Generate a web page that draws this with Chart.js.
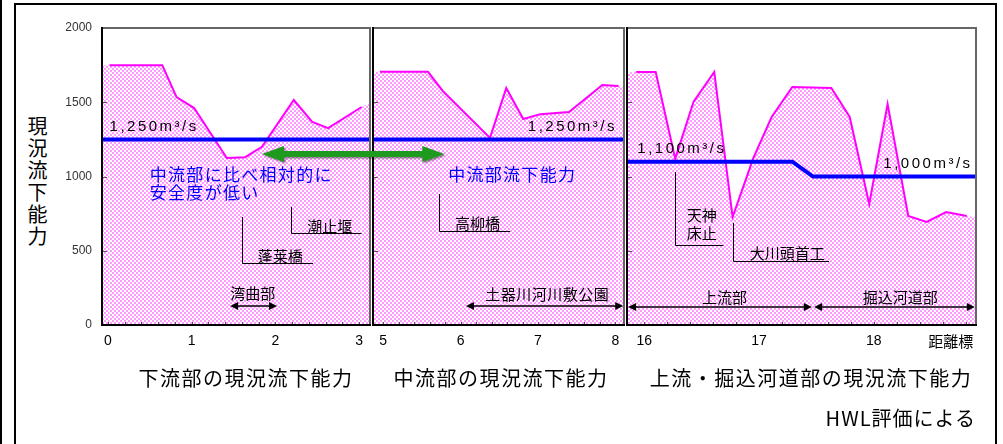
<!DOCTYPE html>
<html lang="ja">
<head>
<meta charset="utf-8">
<title>現況流下能力</title>
<script src="https://cdn.jsdelivr.net/npm/chart.js@4.4.1/dist/chart.umd.min.js"></script>
<style>
  html, body { margin: 0; padding: 0; background: #fff; }
  body { width: 1003px; height: 444px; position: relative; overflow: hidden;
         font-family: "Noto Sans CJK JP", sans-serif; color: #000; }
  .edge { position: absolute; left: 0; top: 0; width: 2px; height: 444px; background: #000; }
  .frame { position: absolute; left: 14px; top: 3px; width: 983px; height: 470px;
           border: 2px solid #000; border-bottom: none; box-sizing: border-box; }
  canvas { position: absolute; top: 18px; }
  #c1 { left: 16px; }
  #c2 { left: 372px; }
  #c3 { left: 626px; }
  #overlay { left: 0; top: 0; pointer-events: none; }
  .ytitle { position: absolute; left: 27px; top: 116px; font-size: 20px; line-height: 20px;
            writing-mode: vertical-rl; text-orientation: upright; letter-spacing: 2px; }
  .cap { position: absolute; top: 366px; width: 360px; font-size: 20px; line-height: 24px;
         letter-spacing: 1.5px; text-align: center; white-space: nowrap; }
  .note { position: absolute; left: 724px; top: 406px; width: 252px; font-size: 20px; line-height: 24px;
          letter-spacing: 1px; text-align: right; white-space: nowrap; }
</style>
</head>
<body>
<div class="edge"></div>
<div class="frame"></div>
<div class="ytitle">現況流下能力</div>
<canvas id="c1" width="356" height="336"></canvas>
<canvas id="c2" width="254" height="336"></canvas>
<canvas id="c3" width="370" height="336"></canvas>
<canvas id="overlay" width="1003" height="444"></canvas>
<div class="cap" style="left:66px">下流部の現況流下能力</div>
<div class="cap" style="left:321px">中流部の現況流下能力</div>
<div class="cap" style="left:631px">上流・掘込河道部の現況流下能力</div>
<div class="note">HWL評価による</div>
<script>
const MAGENTA = '#ff00ff';
const BLUE = '#0000ff';
const JP = '"Noto Sans CJK JP"';
const NUM = '"Liberation Sans", Arial';

// 縦軸 (m3/s)
const yTicks = [0, 500, 1000, 1500, 2000];

// 下流部 0〜3k
const lowerKm = [-0.07, 0.02, 0.65, 0.82, 1.03, 1.42, 1.64, 1.84, 2.22, 2.44, 2.63, 3.03, 3.13];
const lowerFlow = [1750, 1750, 1750, 1535, 1461, 1125, 1130, 1200, 1515, 1367, 1326, 1468, 1495];
const lowerPlanKm = [-0.07, 3.13];
const lowerPlan = [1250, 1250];
const lowerTicks = [0, 1, 2, 3];

// 中流部 5〜8k
const middleKm = [4.87, 4.96, 5.58, 5.77, 6.38, 6.59, 6.81, 7.03, 7.40, 7.83, 8.04, 8.11];
const middleFlow = [1705, 1705, 1705, 1576, 1260, 1596, 1387, 1420, 1434, 1616, 1609, 1600];
const middlePlanKm = [4.87, 8.11];
const middlePlan = [1250, 1250];
const middleTicks = [5, 6, 7, 8];

// 上流・掘込河道部 16〜18.8k
const upperKm = [15.85, 15.93, 16.10, 16.27, 16.43, 16.61, 16.77, 16.95, 17.11, 17.29,
                 17.63, 17.79, 17.96, 18.12, 18.30, 18.46, 18.63, 18.81, 18.89];
const upperFlow = [1700, 1704, 1704, 1120, 1503, 1704, 727, 1124, 1401, 1603,
                   1596, 1401, 815, 1488, 734, 694, 761, 734, 727];
const upperPlanKm = [15.85, 17.29, 17.47, 18.89];
const upperPlan = [1100, 1100, 1000, 1000];
const upperTicks = [16, 17, 18];

// 注記 (位置は距離標・流量の値で指定)
const lowerNotes = [
  { text: '1,250m³/s', x: 0.02, y: 1333, font: NUM, spacing: 2.5 },
  { text: '中流部に比べ相対的に', x: 0.50, y: 1010, color: BLUE, size: 17, spacing: 1.3 },
  { text: '安全度が低い', x: 0.50, y: 889, color: BLUE, size: 17, spacing: 1.3 },
  { bracket: [2.19, 795, 620, 3.03] },
  { text: '潮止堰', x: 2.38, y: 667 },
  { bracket: [1.60, 727, 418, 2.45] },
  { text: '蓬莱橋', x: 1.79, y: 465 },
  { text: '湾曲部', x: 1.73, y: 215, align: 'center' },
  { arrow: [1.46, 2.02, 128] }
];
const middleNotes = [
  { text: '1,250m³/s', x: 8.02, y: 1333, font: NUM, spacing: 2.5, align: 'right' },
  { text: '中流部流下能力', x: 5.84, y: 1010, color: BLUE, size: 17, spacing: 1.3 },
  { bracket: [5.72, 882, 633, 6.64] },
  { text: '高柳橋', x: 5.93, y: 687 },
  { text: '土器川河川敷公園', x: 7.12, y: 209, align: 'center', spacing: 0.5 },
  { arrow: [6.07, 8.10, 128] }
];
const upperNotes = [
  { text: '1,100m³/s', x: 15.94, y: 1185, font: NUM, spacing: 2.5 },
  { text: '1,000m³/s', x: 18.86, y: 1084, font: NUM, spacing: 2.5, align: 'right' },
  { bracket: [16.27, 1030, 539, 16.69] },
  { text: '天神', x: 16.37, y: 741 },
  { text: '床止', x: 16.37, y: 620 },
  { bracket: [16.77, 687, 431, 17.61] },
  { text: '大川頭首工', x: 16.92, y: 485 },
  { text: '上流部', x: 16.70, y: 189, align: 'center' },
  { arrow: [15.86, 17.46, 121] },
  { text: '掘込河道部', x: 18.23, y: 189, align: 'center' },
  { arrow: [17.48, 18.88, 121] },
  { text: '距離標', x: 18.67, under: 16, align: 'center' }
];
// 下流部→中流部の比較矢印
const compareArrow = { fromKm: 1.84, toKm: 5.79, flow: 1151 };

function hatchPattern() {
  const c = document.createElement('canvas');
  c.width = 4; c.height = 4;
  const g = c.getContext('2d');
  g.fillStyle = '#ff99ff';
  g.fillRect(0, 0, 4, 4);
  g.fillStyle = '#ffffff';
  g.fillRect(0, 0, 2, 2);
  g.fillRect(2, 2, 2, 2);
  return g.createPattern(c, 'repeat');
}
const HATCH = hatchPattern();

function xy(xs, ys) {
  return xs.map((x, i) => ({ x, y: ys[i] }));
}

function headArrow(ctx, x1, x2, y) {
  const h = 8, w = 4;
  ctx.beginPath();
  ctx.moveTo(x1 + h - 1, y);
  ctx.lineTo(x2 - h + 1, y);
  ctx.stroke();
  ctx.beginPath();
  ctx.moveTo(x1, y); ctx.lineTo(x1 + h, y - w); ctx.lineTo(x1 + h, y + w); ctx.closePath();
  ctx.moveTo(x2, y); ctx.lineTo(x2 - h, y - w); ctx.lineTo(x2 - h, y + w); ctx.closePath();
  ctx.fill();
}

function drawNote(ctx, area, x, y, n) {
  ctx.strokeStyle = '#000';
  ctx.fillStyle = '#000';
  ctx.lineWidth = 1;
  if (n.bracket) {
    const [bx, y1, y2, bx2] = n.bracket;
    const px = Math.round(x.getPixelForValue(bx)) + 0.5;
    const py = Math.round(y.getPixelForValue(y2)) + 0.5;
    ctx.beginPath();
    ctx.moveTo(px, y.getPixelForValue(y1));
    ctx.lineTo(px, py);
    ctx.lineTo(x.getPixelForValue(bx2), py);
    ctx.stroke();
    return;
  }
  if (n.arrow) {
    const [a1, a2, ay] = n.arrow;
    ctx.lineWidth = 1.5;
    headArrow(ctx, x.getPixelForValue(a1), x.getPixelForValue(a2), y.getPixelForValue(ay));
    return;
  }
  ctx.font = `${n.size || 15}px ${n.font || JP}`;
  ctx.letterSpacing = (n.spacing || 0) + 'px';
  ctx.fillStyle = n.color || '#000';
  ctx.textAlign = n.align || 'left';
  ctx.textBaseline = 'middle';
  const ty = n.under !== undefined ? area.bottom + n.under : y.getPixelForValue(n.y);
  ctx.fillText(n.text, x.getPixelForValue(n.x), ty);
  ctx.letterSpacing = '0px';
}

// 枠・内向き目盛・注記
function panelDeco(notes) {
  return {
    id: 'panelDeco',
    afterDatasetsDraw(chart) {
      const { ctx, chartArea: a, scales: { x, y } } = chart;
      ctx.save();
      ctx.strokeStyle = '#555';
      ctx.lineWidth = 1;
      ctx.beginPath();
      yTicks.slice(1, -1).forEach(v => {
        const py = Math.round(y.getPixelForValue(v)) + 0.5;
        ctx.moveTo(a.left, py); ctx.lineTo(a.left + 5, py);
      });
      for (let k = Math.ceil(x.min / 0.2); k * 0.2 <= x.max; k++) {
        const px = Math.round(x.getPixelForValue(k * 0.2)) + 0.5;
        ctx.moveTo(px, a.bottom); ctx.lineTo(px, a.bottom - 3);
      }
      ctx.stroke();

      ctx.lineWidth = 2;
      ctx.strokeStyle = '#666';
      ctx.beginPath();
      ctx.moveTo(a.left, a.top); ctx.lineTo(a.right, a.top); ctx.lineTo(a.right, a.bottom);
      ctx.stroke();
      ctx.strokeStyle = '#000';
      ctx.beginPath();
      ctx.moveTo(a.left, a.top - 1); ctx.lineTo(a.left, a.bottom); ctx.lineTo(a.right + 1, a.bottom);
      ctx.stroke();

      notes.forEach(n => drawNote(ctx, a, x, y, n));
      ctx.restore();
    }
  };
}

function makePanel(id, km, flow, planKm, plan, ticks, pad, notes, showY) {
  const last = km.length - 1;
  return new Chart(document.getElementById(id), {
    type: 'line',
    data: {
      datasets: [
        { data: xy(planKm, plan), borderColor: BLUE, borderWidth: 4, pointRadius: 0, fill: false },
        {
          data: xy(km, flow), borderColor: MAGENTA, borderWidth: 2, pointRadius: 0,
          fill: 'origin', backgroundColor: HATCH,
          segment: {
            borderColor: c => (c.p0DataIndex === 0 || c.p1DataIndex === last) ? 'rgba(0,0,0,0)' : MAGENTA
          }
        }
      ]
    },
    options: {
      responsive: false,
      animation: false,
      layout: { padding: pad },
      plugins: { legend: { display: false }, tooltip: { enabled: false } },
      scales: {
        x: {
          type: 'linear', min: km[0], max: km[last],
          grid: { display: false, drawTicks: false }, border: { display: false },
          afterBuildTicks: s => { s.ticks = ticks.map(v => ({ value: v })); },
          afterFit: s => { s.height = 29; s.paddingLeft = 0; s.paddingRight = 0; },
          ticks: { autoSkip: false, padding: 8, color: '#000', callback: v => String(v),
                   font: { family: NUM, size: 14 } }
        },
        y: {
          display: showY, min: 0, max: 2000,
          grid: { display: false, drawTicks: false }, border: { display: false },
          afterBuildTicks: s => { s.ticks = yTicks.map(v => ({ value: v })); },
          afterFit: s => { s.width = showY ? 86 : 0; s.paddingTop = 0; s.paddingBottom = 0; },
          ticks: { padding: 10, color: '#333', callback: v => String(v),
                   font: { family: NUM, size: 12 } }
        }
      }
    },
    plugins: [panelDeco(notes)]
  });
}

const chart1 = makePanel('c1', lowerKm, lowerFlow, lowerPlanKm, lowerPlan, lowerTicks,
  { top: 10, right: 2, left: 0, bottom: 0 }, lowerNotes, true);
const chart2 = makePanel('c2', middleKm, middleFlow, middlePlanKm, middlePlan, middleTicks,
  { top: 10, right: 2, left: 1, bottom: 0 }, middleNotes, false);
const chart3 = makePanel('c3', upperKm, upperFlow, upperPlanKm, upperPlan, upperTicks,
  { top: 10, right: 20, left: 1, bottom: 0 }, upperNotes, false);

function drawCompareArrow() {
  const g = document.getElementById('overlay').getContext('2d');
  const c1 = chart1.canvas, c2 = chart2.canvas;
  const x1 = c1.offsetLeft + chart1.scales.x.getPixelForValue(compareArrow.fromKm);
  const x2 = c2.offsetLeft + chart2.scales.x.getPixelForValue(compareArrow.toKm);
  const y = c1.offsetTop + chart1.scales.y.getPixelForValue(compareArrow.flow);
  const h = 22, w = 8, t = 3;
  g.save();
  g.shadowColor = 'rgba(0,0,0,0.45)';
  g.shadowOffsetX = 1.5;
  g.shadowOffsetY = 1.5;
  g.shadowBlur = 2;
  g.fillStyle = '#1e9a1e';
  g.beginPath();
  g.moveTo(x1, y);
  g.lineTo(x1 + h, y - w); g.lineTo(x1 + h, y - t);
  g.lineTo(x2 - h, y - t); g.lineTo(x2 - h, y - w);
  g.lineTo(x2, y);
  g.lineTo(x2 - h, y + w); g.lineTo(x2 - h, y + t);
  g.lineTo(x1 + h, y + t); g.lineTo(x1 + h, y + w);
  g.closePath();
  g.fill();
  g.restore();
}
drawCompareArrow();
</script>
</body>
</html>
